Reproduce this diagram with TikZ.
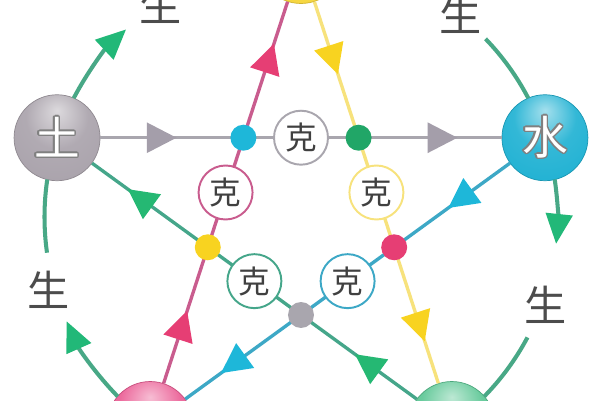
\documentclass[tikz,border=0pt]{standalone}
\usepackage{fontspec}
\newfontfamily\cjk{Noto Sans CJK SC}
\usepackage{contour}
\contourlength{0.8pt}
\usetikzlibrary{arrows.meta,decorations.markings,shadings}

\definecolor{tucol}{HTML}{A8A1AA}
\definecolor{shuicol}{HTML}{1CB0D2}
\definecolor{jincol}{HTML}{F6D53A}
\definecolor{huocol}{HTML}{EA5A92}
\definecolor{mucol}{HTML}{58C592}
\definecolor{grayline}{HTML}{A9A6AE}
\definecolor{grayarrow}{HTML}{A49EAA}
\definecolor{pinkline}{HTML}{C95C8E}
\definecolor{pinkarrow}{HTML}{E63E74}
\definecolor{yellowline}{HTML}{F7E27C}
\definecolor{yellowarrow}{HTML}{F8D320}
\definecolor{cyanline}{HTML}{3DA8C6}
\definecolor{cyanarrow}{HTML}{1EB7D9}
\definecolor{greenline}{HTML}{45A68A}
\definecolor{greenarrow}{HTML}{25B873}
\definecolor{shengline}{HTML}{48A886}
\definecolor{shengarrow}{HTML}{22B878}
\colorlet{base}{gray}
\pgfdeclareradialshading[base]{sphere}{\pgfpoint{0bp}{16bp}}{color(0bp)=(base!40!white); color(18bp)=(base!90!white); color(40bp)=(base); color(62bp)=(base); color(68bp)=(base!80!black)}

\begin{document}
\begin{tikzpicture}[x=0.02cm,y=0.02cm,
		ke/.style 2 args={draw=#1,line width=1.9pt,postaction={decorate},
			decoration={markings,
				mark=at position 0.19 with {\arrow{Triangle[length=17pt,width=17pt,color=#2]}},
				mark=at position 0.89 with {\arrow{Triangle[length=17pt,width=17pt,color=#2]}}}}]
			\tikzstyle{element} = [circle,minimum size=1.72cm,inner sep=0pt,/utils/exec={\colorlet{base}{#1}},shading=sphere,draw=#1!85!black,thin,text=white,font=\cjk\fontsize{26}{26}\selectfont]
			\tikzstyle{crossdot} = [circle,fill=#1,minimum size=0.52cm,inner sep=0pt]
			\tikzstyle{kebox} = [circle,draw=#1,line width=1.1pt,fill=white,minimum size=1.08cm,inner sep=0pt,text=black!75,font=\cjk\fontsize{18}{18}\selectfont]
			\tikzstyle{sheng} = [draw=shengline,line width=2.3pt]
			\tikzstyle{shenglabel} = [text=black!70,font=\cjk\fontsize{24}{24}\selectfont]
			
			\useasboundingbox (-301,-183) rectangle (299,217);
			\clip (-301,-183) rectangle (299,217);
			\fill[white] (-301,-183) rectangle (299,217);
			
			\node[element=jincol] (jin) at (90:256.5) {};
			\node[element=shuicol] (shui) at (18:256.5) {\contour{black!50}{水}};
			\node[element=mucol] (mu) at (-54:256.5) {};
			\node[element=huocol] (huo) at (-126:256.5) {};
			\node[element=tucol] (tu) at (162:256.5) {\contour{black!50}{土}};
			
			% sheng
			\foreach \a/\t/\l in {162/29/{-140,212},90/29/{160,202},18/24/{245,-88},-126/30/{-252,-73}} {
				\draw[sheng,-{Triangle[length=17pt,width=15pt,color=shengarrow]}] (\a-9.6:256.5) arc[start angle=\a-9.6,end angle=\a-\t,radius=256.5];
				\node[shenglabel] (sheng\a) at (\l) {生};
				\draw[sheng] (\a-46:256.5) arc[start angle=\a-46,end angle=\a-62.4,radius=256.5];
			}
			
			% ke
			\draw[ke={grayline}{grayarrow}] (tu) -- (shui);
			\draw[ke={cyanline}{cyanarrow}] (shui) -- (huo);
			\draw[ke={pinkline}{pinkarrow}] (huo) -- (jin);
			\draw[ke={yellowline}{yellowarrow}] (jin) -- (mu);
			\draw[ke={greenline}{greenarrow}] (mu) -- (tu);
			
			\node[crossdot=cyanarrow] (d1) at (126:98) {};
			\node[crossdot=greenarrow!90!black] (d2) at (54:98) {};
			\node[crossdot=pinkarrow] (d3) at (-18:98) {};
			\node[crossdot=grayline] (d4) at (-90:98) {};
			\node[crossdot=yellowarrow] (d5) at (198:98) {};
			
			\node[kebox=grayline] (k1) at (90:79.3) {克};
			\node[kebox=yellowline] (k2) at (18:79.3) {克};
			\node[kebox=cyanline] (k3) at (-54:79.3) {克};
			\node[kebox=greenline] (k4) at (-126:79.3) {克};
			\node[kebox=pinkline] (k5) at (162:79.3) {克};
		\end{tikzpicture}
\end{document}
